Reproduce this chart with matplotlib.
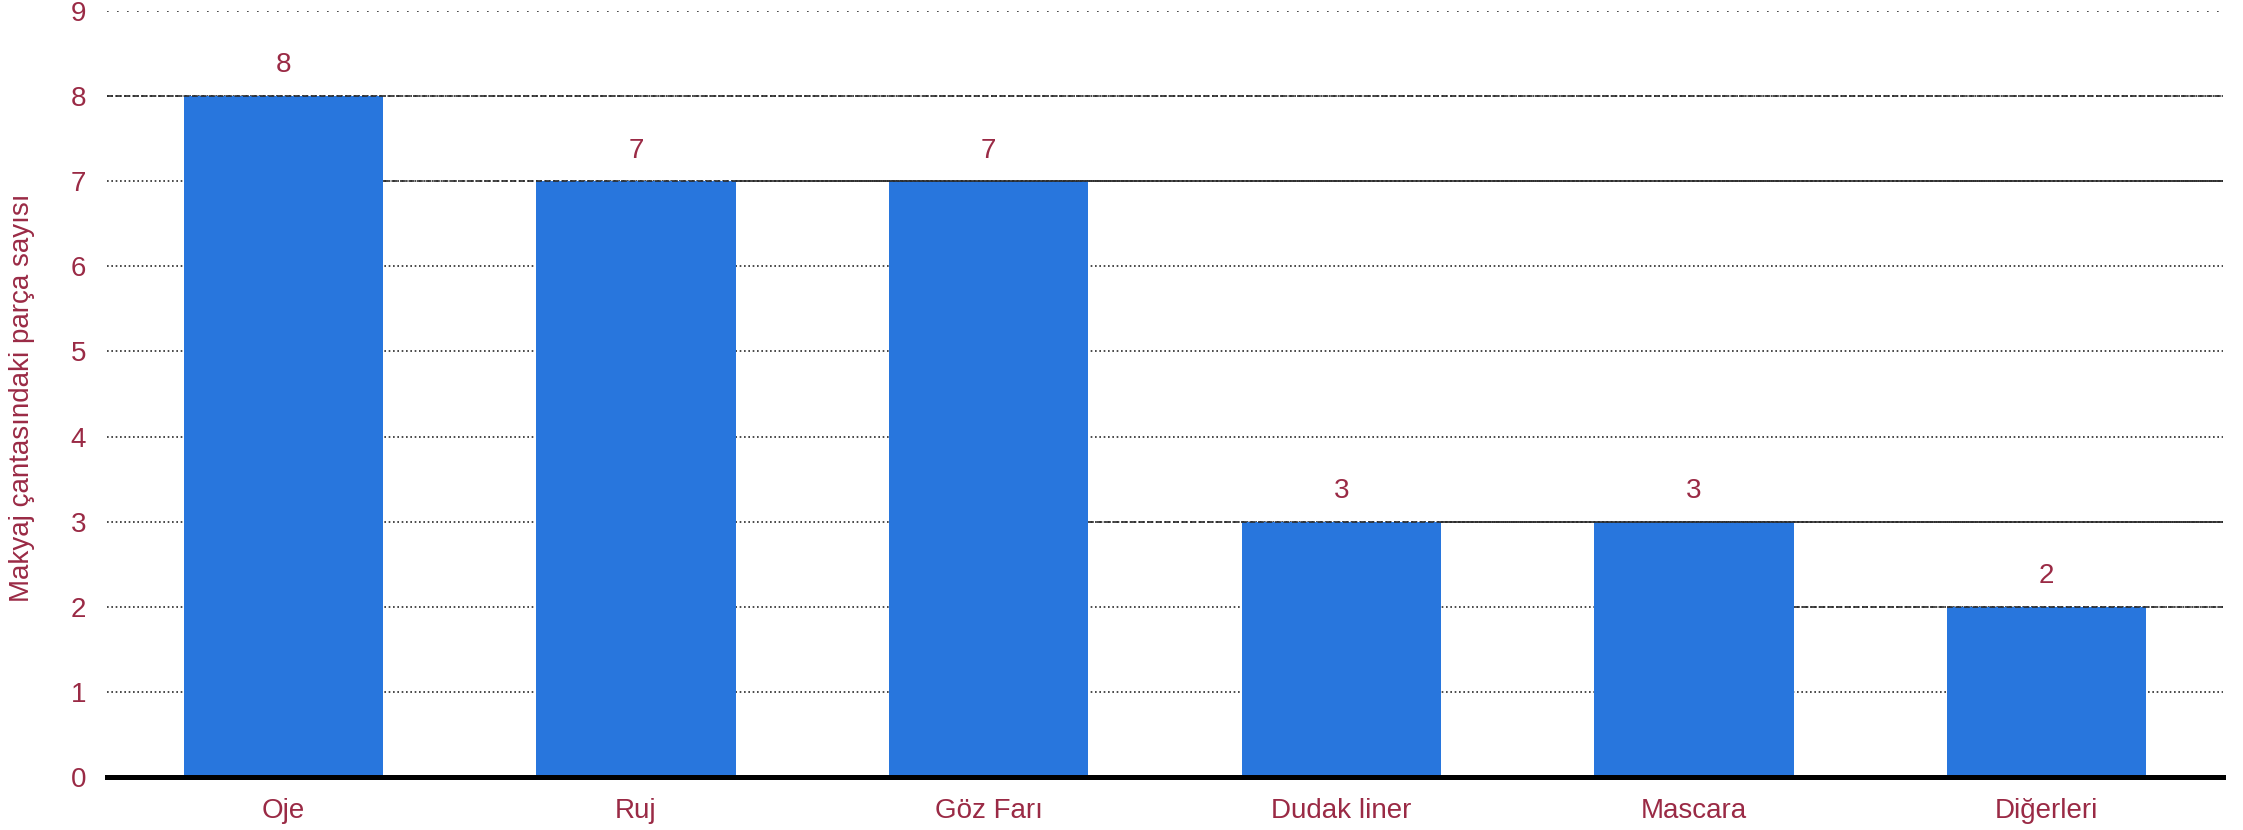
import matplotlib
matplotlib.use('Agg')
import matplotlib.pyplot as plt
import numpy as np

plt.rc('font', family=['Liberation Sans', 'DejaVu Sans'])

# data
CATEGORIES = ['Oje', 'Ruj', 'Göz Farı', 'Dudak liner', 'Mascara', 'Diğerleri']
VALUES = [8, 7, 7, 3, 3, 2]
YTICKS = list(range(0, 10))
YLABEL = 'Makyaj çantasındaki parça sayısı'

BARCOL = '#2876dd'
TXTCOL = '#9a2a45'
LINECOL = '#2a2a2a'
BARW = 0.565

# -------------------------------------------------------------

if __name__ == '__main__':

    fig = plt.figure(figsize=(22.43, 8.30), dpi=100)
    ax = fig.add_axes([107/2243, 1 - 777/830, (2223 - 107)/2243, (777 - 11)/830])

    x = np.arange(len(CATEGORIES))
    ax.set_xlim(-0.5, len(CATEGORIES) - 0.5)
    ax.set_ylim(0, 9)

    # dotted grid
    for yv in YTICKS[1:]:
        if yv == YTICKS[-1]:
            ax.axhline(yv, color=LINECOL, lw=1.2, dashes=(1, 5), zorder=1)
        else:
            ax.axhline(yv, color=LINECOL, lw=1.2, dashes=(1, 1.6), zorder=1)

    ax.bar(x, VALUES, width=BARW, color=BARCOL, zorder=2)

    # dashed level lines, from previous bar edge to the right
    xmin, xmax = ax.get_xlim()
    for n, val in enumerate(VALUES):
        start = xmin if n == 0 else x[n - 1] + BARW / 2
        ax.hlines(val, start, xmax, color=LINECOL, lw=1.2,
                  linestyles=(0, (3.5, 1.6)), zorder=3)
        ax.text(x[n], val + 0.36, str(val), ha='center', va='center',
                fontsize=20, color=TXTCOL, zorder=4)

    for side in ['top', 'right', 'left']:
        ax.spines[side].set_visible(False)
    ax.spines['bottom'].set_color('black')
    ax.spines['bottom'].set_linewidth(3.6)
    ax.spines['bottom'].set_zorder(5)

    ax.set_xticks(x)
    ax.set_xticklabels(CATEGORIES)
    ax.set_yticks(YTICKS)
    ax.tick_params(axis='both', length=0, labelsize=20, labelcolor=TXTCOL)
    ax.tick_params(axis='x', pad=15)
    ax.tick_params(axis='y', pad=15)

    fig.text(22/2243, 1 - 398/830, YLABEL, rotation=90, ha='center', va='center',
             fontsize=20, color=TXTCOL)

    fig.savefig('out.png', dpi=100)
